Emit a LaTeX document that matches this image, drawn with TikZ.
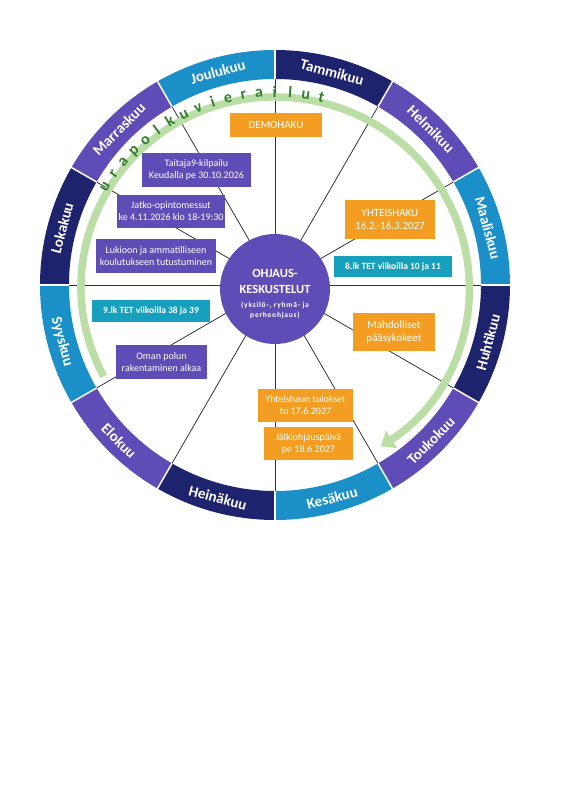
\documentclass[tikz,border=0pt]{standalone}
\usepackage{fontspec}
\setmainfont{Carlito}
\newfontfamily\pienifont[LetterSpace=10]{Carlito}
\usetikzlibrary{arrows.meta}
\definecolor{tumma}{RGB}{30,35,110}
\definecolor{lila}{RGB}{95,76,182}
\definecolor{sini}{RGB}{27,143,200}
\definecolor{turkoosi}{RGB}{22,160,190}
\definecolor{oranssi}{RGB}{243,158,35}
\definecolor{vaaleavihrea}{RGB}{186,222,166}
\definecolor{vihrea}{RGB}{50,128,45}
\tikzset{
	kuukausi/.style={text=white, font=\fontsize{15}{17}\selectfont\bfseries, inner sep=0pt},
	erotin/.style={white, line width=1.5pt},
	puola/.style={black!80, line width=0.8pt},
	polku/.style={vaaleavihrea, line width=7.5pt, -{Triangle[width=20pt,length=13pt]}},
	kirjain/.style={text=vihrea, font=\fontsize{16}{18}\selectfont\bfseries, inner sep=0pt, anchor=base},
	laatikko/.style={text=white, inner sep=0pt, align=center, font=\fontsize{10}{12}\selectfont},
	iso/.style={laatikko, font=\fontsize{11}{13.5}\selectfont},
	tet/.style={laatikko, fill=turkoosi, font=\fontsize{9.5}{11.5}\selectfont\bfseries},
	keskus/.style={circle, fill=lila, minimum size=110pt, inner sep=0pt},
}
\begin{document}
\begin{tikzpicture}[x=1pt,y=1pt]
	\useasboundingbox (-275,-515) rectangle (291,285);
	\foreach \m/\c [count=\i from 0] in {Tammikuu/tumma,Helmikuu/lila,Maaliskuu/sini,Huhtikuu/tumma,Toukokuu/lila,Kesäkuu/sini,Heinäkuu/tumma,Elokuu/lila,Syyskuu/sini,Lokakuu/tumma,Marraskuu/lila,Joulukuu/sini}{
		\pgfmathsetmacro\alku{90-30*\i}
		\pgfmathsetmacro\loppu{60-30*\i}
		\pgfmathsetmacro\keski{75-30*\i}
		\pgfmathsetmacro\kulma{ifthenelse(and(\i>2,\i<9),\keski+90,\keski-90)}
		\fill[\c] (\alku:235) arc[start angle=\alku, end angle=\loppu, radius=235] -- (\loppu:206) arc[start angle=\loppu, end angle=\alku, radius=206] -- cycle;
		\node[kuukausi, rotate=\kulma] (kk\i) at (\keski:220.5) {\m};
	}
	\foreach \a in {0,30,...,330}
		\draw[erotin] (\a:205) -- (\a:236);
	\coordinate (napa) at (0,0);
	\foreach \a in {0,30,...,330}{
		\coordinate (reuna\a) at (\a:206);
		\draw[puola] (napa) -- (reuna\a);
	}
	\draw[polku] ([shift={(0,-2)}]208:194 and 190) arc[start angle=208, end angle=-57, x radius=194, y radius=190];
	\foreach \l [count=\k from 0] in {u,r,a,p,o,l,k,u,v,i,e,r,a,i,l,u,t}{
		\pgfmathsetmacro\kk{149-4.53*\k}
		\node[kirjain, rotate=\kk-90] (kirjain\k) at ([shift={(0,-2)}]\kk:194 and 190) {\l};
	}
	\node[keskus] (keskus) at (0,-4) {};
	\node[text=white, align=center, inner sep=0pt, font=\fontsize{12.5}{16}\selectfont\bfseries] (keskusteksti) at (0,-9) {OHJAUS-\\KESKUSTELUT\\[-2pt]{\pienifont\fontsize{7.5}{8}\selectfont (yksilö-, ryhmä- ja}\\[-6pt]{\pienifont\fontsize{7.5}{8}\selectfont perheohjaus)}};
	\node[iso, fill=oranssi, minimum width=92pt, minimum height=24pt] (demohaku) at (1,160) {DEMOHAKU};
	\node[laatikko, fill=lila, minimum width=109pt, minimum height=34pt] (taitaja) at (-78.5,115) {Taitaja9-kilpailu\\Keudalla pe 30.10.2026};
	\node[laatikko, fill=lila, minimum width=108pt, minimum height=33pt] (messut) at (-104,73.5) {Jatko-opintomessut\\ke 4.11.2026 klo 18-19:30};
	\node[laatikko, fill=lila, minimum width=120pt, minimum height=34pt] (lukioon) at (-119,29) {Lukioon ja ammatilliseen\\koulutukseen tutustuminen};
	\node[tet, minimum width=118pt, minimum height=22pt] (tet9) at (-124,-26) {9.lk TET viikoilla 38 ja 39};
	\node[laatikko, fill=lila, minimum width=91pt, minimum height=34pt] (polku) at (-113.5,-77) {Oman polun\\rakentaminen alkaa};
	\node[iso, fill=oranssi, minimum width=90pt, minimum height=39pt] (yhteishaku) at (115,65.5) {YHTEISHAKU\\16.2.-16.3.2027};
	\node[tet, minimum width=118pt, minimum height=21pt] (tet8) at (118,18.5) {8.lk TET viikoilla 10 ja 11};
	\node[iso, fill=oranssi, minimum width=82pt, minimum height=38pt] (kokeet) at (119,-47) {Mahdolliset\\pääsykokeet};
	\node[laatikko, fill=oranssi, minimum width=95pt, minimum height=33pt] (tulokset) at (30.5,-120.5) {Yhteishaun tulokset\\to 17.6.2027};
	\node[laatikko, fill=oranssi, minimum width=89pt, minimum height=33pt] (jalkiohjaus) at (33.5,-158.5) {Jälkiohjauspäivä\\pe 18.6.2027};
\end{tikzpicture}
\end{document}
